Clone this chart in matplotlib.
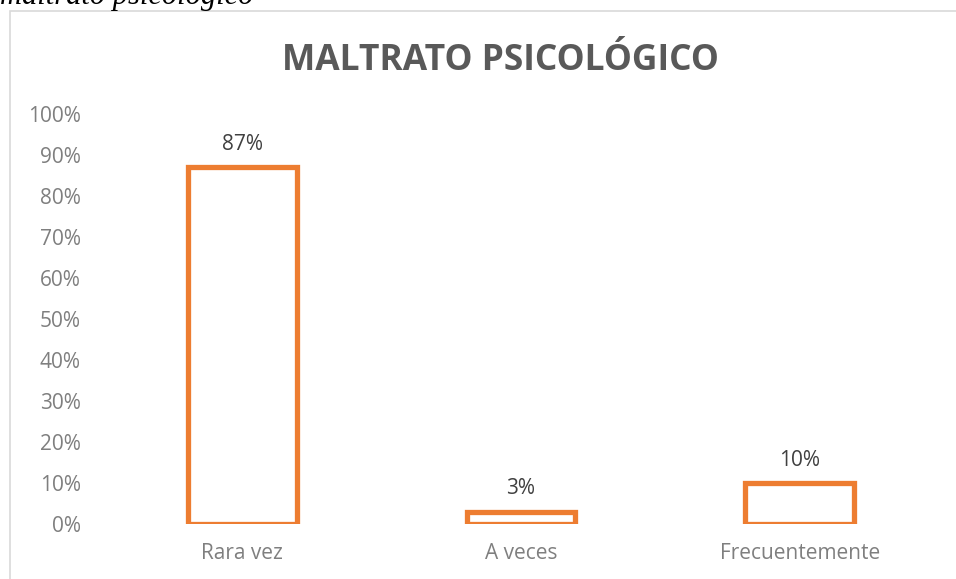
import matplotlib.pyplot as plt
from matplotlib.patches import Rectangle

categories = ["Rara vez", "A veces", "Frecuentemente"]
values = [0.87, 0.03, 0.10]
labels = ["87%", "3%", "10%"]
y_ticks = [i / 10 for i in range(11)]
y_tick_labels = [f"{i * 10}%" for i in range(11)]

orange = '#ED7D31'
W, H = 956, 579

plt.rcParams['font.family'] = ['Open Sans', 'DejaVu Sans']

fig = plt.figure(figsize=(W / 100, H / 100), dpi=100)

# outer chart frame, partly cut off by the page crop
fig.patches.append(Rectangle((9.5 / W, -0.1), 1.2, (1 - 10.5 / H) + 0.1,
                             transform=fig.transFigure, fill=False,
                             edgecolor='#d9d9d9', linewidth=1.2))

# caption line above chart (cut off at the top, as in the page crop)
fig.text(0 / W, 1 - 4 / H, "maltrato psicológico", family='Liberation Serif',
         style='italic', fontsize=22, va='baseline', ha='left', color='black')

ax = fig.add_axes([103 / W, 1 - 524 / H, (939 - 103) / W, (524 - 114) / H])
x = range(len(categories))
bars = ax.bar(x, values, width=0.39, facecolor='white', edgecolor=orange, linewidth=3.8)

for xi, v, lab in zip(x, values, labels):
    ax.annotate(lab, (xi, v), xytext=(0, 9), textcoords='offset points',
                ha='center', va='bottom', fontsize=15, color='#404040')

ax.set_xlim(-0.5, 2.5)
ax.set_ylim(0, 1)
ax.set_yticks(y_ticks)
ax.set_yticklabels(y_tick_labels)
ax.set_xticks(list(x))
ax.set_xticklabels(categories)
ax.tick_params(length=0, labelsize=15, colors='#7f7f7f')
ax.tick_params(axis='y', pad=16)
ax.tick_params(axis='x', pad=14)
for s in ax.spines.values():
    s.set_visible(False)

fig.text(500 / W, 1 - 61 / H, "MALTRATO PSICOLÓGICO", ha='center', va='center',
         fontsize=25.5, fontweight='bold', color='#595959')

fig.savefig('out.png', dpi=100)
